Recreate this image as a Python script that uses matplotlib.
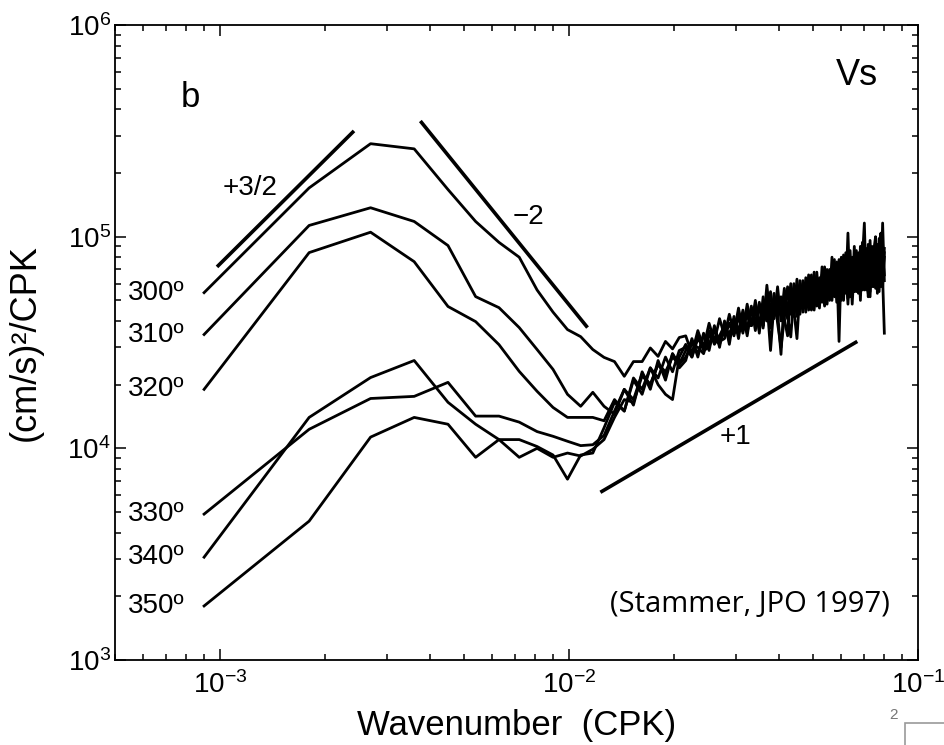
import numpy as np
import matplotlib.pyplot as plt
from matplotlib.patches import Rectangle

plt.rcParams['font.family'] = ['Liberation Sans', 'DejaVu Sans']
plt.rcParams['mathtext.fontset'] = 'custom'
plt.rcParams['mathtext.rm'] = 'Liberation Sans'
plt.rcParams['mathtext.it'] = 'Liberation Sans:italic'
plt.rcParams['mathtext.default'] = 'regular'

# ---- data -------------------------------------------------------------
# spectra are on the harmonic grid k = n * dk, n = 1..89
dk = 0.0009          # CPK
harmonic = np.arange(1, 90)

# spectral density, units of 1e3 (cm/s)^2/CPK
psd_300 = [54.4, 170, 275, 260, 167, 118, 94, 80, 56, 44, 36.4, 33.7, 29.3,
           26.9, 25.7, 21.9, 25.7, 25.7, 29.8, 27.2, 32, 29.5, 33.4,
           34, 28, 36, 30, 39, 32, 41, 34, 43, 35,
           46, 36, 48, 38, 50, 35, 52, 40, 55, 41,
           58, 40, 57, 43, 60, 42, 63, 45, 62, 44,
           66, 46, 68, 47, 64, 49, 72, 48, 70, 50,
           75, 52, 78, 50, 82, 54, 104, 52, 80, 55,
           86, 54, 90, 56, 84, 58, 92, 55, 88, 58,
           95, 56, 98, 60, 116, 62]
psd_310 = [34.5, 113, 137, 118, 90.8, 52.1, 46.2, 37.2, 29.3, 23.6, 18, 15.8, 18.4,
           15.8, 14.5, 19, 16, 23, 19, 26, 21, 28, 24,
           26, 33, 27, 35, 29, 38, 30, 40, 31, 42,
           33, 45, 35, 47, 36, 49, 38, 51, 37, 54,
           39, 30, 41, 58, 43, 60, 42, 62, 44, 64,
           45, 66, 47, 68, 46, 72, 48, 70, 50, 80,
           52, 76, 32, 80, 50, 84, 54, 86, 53, 90,
           55, 82, 50, 94, 56, 88, 52, 96, 58, 86,
           100, 54, 92, 104, 58, 84]
psd_320 = [19, 84.1, 105, 76.2, 46.8, 39.7, 30.9, 23.1, 18.6, 15.6, 14, 14, 14,
           13.5, 17, 15, 21, 18, 24, 20, 18, 17, 27,
           31, 27, 34, 29, 30, 37, 32, 39, 33, 41,
           36, 44, 34, 46, 39, 48, 37, 59, 40, 50,
           42, 52, 41, 34, 55, 44, 58, 43, 60, 46,
           62, 45, 50, 64, 48, 66, 47, 69, 51, 71,
           78, 49, 73, 52, 62, 76, 51, 80, 54, 72,
           58, 84, 53, 78, 116, 56, 86, 52, 90, 80,
           57, 92, 55, 96, 60, 88]
psd_330 = [4.89, 12.3, 17.2, 17.6, 20.5, 14.2, 14.2, 13.3, 12, 11.4, 10.8, 10.3, 10.4,
           11.5, 15, 19, 17, 22.5, 20, 25, 23, 27, 25,
           29, 32, 28, 34, 31, 36, 32, 33, 39, 34,
           42, 35, 44, 38, 46, 36, 48, 40, 47, 42,
           50, 43, 53, 41, 55, 45, 33, 56, 46, 58,
           47, 60, 45, 63, 49, 65, 50, 62, 52, 68,
           54, 70, 51, 74, 55, 72, 48, 78, 56, 75,
           60, 80, 55, 84, 58, 82, 54, 88, 60, 85,
           62, 90, 58, 86, 64, 35]
psd_340 = [3.06, 14, 21.6, 26, 16.5, 13, 11, 11, 10.2, 9.3, 7.15, 9.3, 9.5,
           12.5, 16.5, 15, 21.5, 19, 24, 21.5, 27, 23, 29,
           30, 27, 33, 30, 36, 31, 34, 38, 33, 40,
           35, 43, 37, 45, 39, 47, 38, 50, 29, 49,
           44, 27.8, 52, 45, 56, 43, 59, 47, 57, 49,
           61, 47, 63, 50, 60, 52, 66, 51, 69, 53,
           72, 55, 68, 54, 75, 57, 70, 58, 79, 55,
           82, 57, 76, 60, 85, 58, 80, 62, 87, 59,
           84, 61, 90, 58, 92, 66]
psd_350 = [1.80, 4.53, 11.3, 14, 13, 9.07, 11, 9.07, 10, 9.07, 9.5, 9.2, 9.9,
           11, 14, 17, 16.5, 22, 20, 25, 22, 28, 25,
           27, 31, 30, 28, 34, 33, 31, 37, 35, 39,
           36, 41, 42, 38, 44, 40, 46, 41, 48, 43,
           47, 44, 50, 42, 33.6, 53, 45, 56, 47, 59,
           49, 57, 52, 61, 50, 64, 53, 62, 55, 67,
           53, 70, 56, 67, 58, 73, 54, 76, 48, 74,
           59, 78, 57, 81, 60, 79, 56, 84, 61, 82,
           63, 86, 59, 88, 62, 80]

spectra = [psd_300, psd_310, psd_320, psd_330, psd_340, psd_350]
labels = ['300º', '310º', '320º', '330º', '340º', '350º']

# reference slopes: end points (k, psd)
slope_32_k = [9.8e-4, 2.42e-3]
slope_32_p = [7.2e4, 3.16e5]
slope_m2_k = [3.75e-3, 1.13e-2]
slope_m2_p = [3.52e5, 3.72e4]
slope_p1_k = [1.23e-2, 6.7e-2]
slope_p1_p = [6.2e3, 3.2e4]

# ---- plot -------------------------------------------------------------
fig = plt.figure(figsize=(9.45, 7.45), dpi=100)
ax = fig.add_axes([0.1217, 0.1141, 0.8497, 0.8523])

k = dk * harmonic
for psd, lab in zip(spectra, labels):
    p = np.array(psd) * 1e3
    ax.plot(k, p, color='black', lw=2.0)
    ax.text(k[0] * 0.88, p[0], lab, ha='right', va='center', fontsize=20)

ax.plot(slope_32_k, slope_32_p, color='black', lw=2.6, solid_capstyle='butt')
ax.plot(slope_m2_k, slope_m2_p, color='black', lw=2.6, solid_capstyle='butt')
ax.plot(slope_p1_k, slope_p1_p, color='black', lw=2.6, solid_capstyle='butt')

ax.text(1.22e-3, 1.7e5, '+3/2', ha='center', va='center', fontsize=20)
ax.text(7.64e-3, 1.24e5, '\u22122', ha='center', va='center', fontsize=20)
ax.text(0.030, 1.13e4, '+1', ha='center', va='center', fontsize=20)
ax.text(8.2e-4, 4.57e5, 'b', ha='center', va='center', fontsize=25)
ax.text(0.067, 5.75e5, 'Vs', ha='center', va='center', fontsize=26)
ax.text(0.965, 0.087, '(Stammer, JPO 1997)', transform=ax.transAxes,
        ha='right', va='center', fontsize=21, family=['Open Sans', 'DejaVu Sans'])

ax.set_xscale('log')
ax.set_yscale('log')
ax.set_xlim(5e-4, 1e-1)
ax.set_ylim(1e3, 1e6)

ax.tick_params(which='both', direction='in', top=True, right=True, width=1.1)
ax.tick_params(which='major', length=8, labelsize=20)
ax.tick_params(which='minor', length=4)
ax.tick_params(axis='x', pad=8)
ax.tick_params(axis='y', pad=3)
for s in ax.spines.values():
    s.set_linewidth(1.3)

ax.set_xlabel('Wavenumber  (CPK)', fontsize=25, labelpad=7)
ax.set_ylabel('(cm/s)²/CPK', fontsize=26, labelpad=18)

# slide number leftover at the bottom right
fig.text(0.945, 0.04, '2', fontsize=11, color='#777777', ha='center', va='center')
fig.patches.append(Rectangle((0.958, -0.02), 0.1, 0.05, transform=fig.transFigure,
                             fill=False, edgecolor='#999999', lw=1.2))

fig.savefig('out.png', dpi=100)
